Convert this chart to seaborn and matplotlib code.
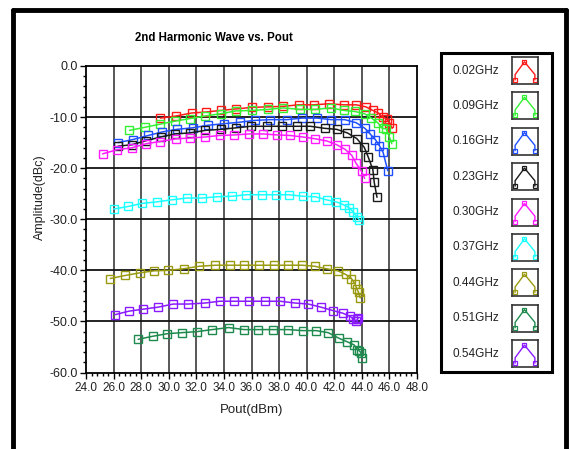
import numpy as np
import pandas as pd
import matplotlib
matplotlib.use("Agg")
import matplotlib.pyplot as plt
from matplotlib.lines import Line2D
from matplotlib.patches import Rectangle
from matplotlib.ticker import MultipleLocator, FormatStrFormatter
import seaborn as sns

# ---------------- data ----------------
labels = ["0.02GHz", "0.09GHz", "0.16GHz", "0.23GHz", "0.30GHz",
          "0.37GHz", "0.44GHz", "0.51GHz", "0.54GHz"]
colors = ["#ff1a1a", "#33f033", "#1f4fff", "#1a1a1a", "#ff1aff",
          "#1affff", "#9a9a12", "#1e8a4e", "#8a1aff"]

x_002 = [29.4, 30.5, 31.66, 32.73, 33.78, 34.9, 36.02, 37.17, 38.29, 39.41, 40.5,
         41.6, 42.7, 43.6, 44.3, 44.8, 45.2, 45.5, 45.8, 46.0, 46.2]
y_002 = [-10.2, -9.8, -9.2, -9.0, -8.7, -8.4, -8.1, -8.0, -7.9, -7.6, -7.6,
         -7.4, -7.6, -7.6, -8.0, -8.7, -9.2, -10.0, -10.3, -11.1, -12.2]

x_009 = [27.15, 28.27, 29.34, 30.44, 31.51, 32.61, 33.76, 34.85, 36.02, 37.17, 38.32,
         39.5, 40.63, 41.73, 42.7, 43.5, 44.2, 44.7, 45.15, 45.5, 45.76, 46.0, 46.17]
y_009 = [-12.6, -12.0, -11.4, -10.8, -10.3, -9.8, -9.35, -8.8, -8.7, -8.5, -8.2,
         -8.5, -8.5, -8.2, -8.7, -8.9, -9.35, -10.2, -11.1, -12.2, -12.3, -13.9, -15.2]

x_016 = [26.32, 27.39, 28.51, 29.54, 30.59, 31.73, 32.85, 33.98, 35.15, 36.22, 37.37,
         38.56, 39.66, 40.76, 41.78, 42.76, 43.59, 44.22, 44.6, 44.98, 45.27, 45.54, 45.88]
y_016 = [-15.0, -14.4, -13.6, -12.9, -12.4, -12.1, -11.6, -11.3, -11.0, -10.65, -10.5,
         -10.5, -10.2, -10.2, -10.5, -10.5, -11.1, -12.2, -13.3, -14.4, -15.6, -16.9, -20.5]

x_023 = [26.32, 27.34, 28.37, 29.41, 30.44, 31.54, 32.66, 33.78, 34.9, 35.93, 37.1,
         38.2, 39.3, 40.27, 41.3, 42.17, 42.95, 43.63, 44.17, 44.46, 44.8, 44.9, 45.1]
y_023 = [-15.7, -15.4, -14.6, -13.9, -13.3, -13.1, -12.6, -12.4, -12.1, -11.8, -11.8,
         -11.8, -11.8, -11.8, -12.2, -12.4, -13.1, -14.2, -15.9, -17.8, -20.3, -22.8, -25.7]

x_030 = [25.2, 26.24, 27.34, 28.37, 29.34, 30.51, 31.56, 32.63, 33.68, 34.73, 35.83,
         36.85, 37.88, 38.8, 39.73, 40.63, 41.49, 42.17, 42.78, 43.27, 43.56, 43.98, 44.2]
y_030 = [-17.2, -16.4, -16.0, -15.2, -14.8, -14.25, -14.1, -13.9, -13.6, -13.5, -13.3,
         -13.3, -13.5, -13.6, -13.9, -14.25, -14.7, -15.4, -16.3, -17.5, -18.95, -20.65, -22.0]

x_037 = [26.0, 27.05, 28.07, 29.12, 30.2, 31.3, 32.4, 33.5, 34.6, 35.63, 36.73,
         37.76, 38.73, 39.7, 40.63, 41.44, 42.15, 42.7, 43.07, 43.37, 43.63, 43.83]
y_037 = [-28.0, -27.5, -26.9, -26.6, -26.2, -25.85, -25.85, -25.6, -25.5, -25.2, -25.2,
         -25.2, -25.2, -25.5, -25.6, -26.2, -26.6, -27.2, -27.7, -28.55, -29.5, -30.1]

x_044 = [25.76, 26.85, 27.88, 28.93, 29.98, 31.07, 32.22, 33.37, 34.41, 35.46, 36.56,
         37.63, 38.68, 39.66, 40.58, 41.44, 42.27, 42.83, 43.24, 43.49, 43.63, 43.76, 43.88]
y_044 = [-41.6, -41.0, -40.5, -40.1, -40.0, -39.7, -39.2, -39.0, -39.0, -39.0, -39.0,
         -39.0, -39.0, -39.0, -39.2, -39.7, -40.1, -40.8, -41.6, -42.6, -43.6, -44.3, -45.4]

x_051 = [27.78, 28.85, 29.9, 30.95, 32.05, 33.15, 34.34, 35.46, 36.5, 37.54, 38.68,
         39.7, 40.68, 41.56, 42.34, 42.95, 43.44, 43.68, 43.83, 43.93, 43.98]
y_051 = [-53.5, -52.9, -52.4, -52.2, -52.0, -51.6, -51.2, -51.6, -51.6, -51.6, -51.6,
         -51.8, -51.8, -52.2, -53.3, -54.0, -54.6, -55.5, -55.8, -56.1, -57.1]

x_054 = [26.07, 27.1, 28.15, 29.24, 30.32, 31.41, 32.63, 33.7, 34.73, 35.85, 37.0,
         38.07, 39.15, 40.12, 41.02, 41.93, 42.63, 43.15, 43.37, 43.59, 43.68, 43.73]
y_054 = [-48.7, -48.0, -47.6, -47.2, -46.6, -46.6, -46.4, -46.05, -46.05, -46.05, -46.05,
         -46.05, -46.4, -46.6, -47.2, -47.9, -48.4, -49.0, -49.5, -49.9, -49.6, -49.3]

series_x = [x_002, x_009, x_016, x_023, x_030, x_037, x_044, x_051, x_054]
series_y = [y_002, y_009, y_016, y_023, y_030, y_037, y_044, y_051, y_054]

x_ticks = [24.0, 26.0, 28.0, 30.0, 32.0, 34.0, 36.0, 38.0, 40.0, 42.0, 44.0, 46.0, 48.0]
y_ticks = [0.0, -10.0, -20.0, -30.0, -40.0, -50.0, -60.0]

# ---------------- figure ----------------
sns.set_style("white")
plt.rcParams["font.family"] = ["Liberation Sans", "DejaVu Sans"]

W, H = 569, 449
fig = plt.figure(figsize=(W / 100, H / 100), dpi=100)
fig.patch.set_facecolor("white")

def fx(px):
    return px / W

def fy(py):
    return 1 - py / H

ax = fig.add_axes([fx(86), fy(372.5), fx(417) - fx(86), fy(66) - fy(372.5)])

# grid
for gx in x_ticks[1:-1]:
    ax.axvline(gx, color="#4a4a4a", lw=1.3, zorder=0)
for gy in y_ticks[1:-1]:
    ax.axhline(gy, color="#111111", lw=1.3, zorder=0)

for xs, ys, c, lab in zip(series_x, series_y, colors, labels):
    df = pd.DataFrame({"Pout": xs, "Amp": ys})
    sns.lineplot(data=df, x="Pout", y="Amp", ax=ax, color=c, lw=1.1,
                 marker="s", markersize=5.5, markerfacecolor="none",
                 markeredgecolor=c, markeredgewidth=1.0,
                 sort=False, estimator=None, legend=False, zorder=3)

ax.set_xlim(24, 48)
ax.set_ylim(-60, 0)
ax.set_xticks(x_ticks)
ax.set_yticks(y_ticks)
ax.xaxis.set_major_formatter(FormatStrFormatter("%.1f"))
ax.yaxis.set_major_formatter(FormatStrFormatter("%.1f"))
ax.xaxis.set_minor_locator(MultipleLocator(0.4))
ax.yaxis.set_minor_locator(MultipleLocator(2))
ax.tick_params(axis="both", which="major", direction="out", length=4, width=1,
               color="black", pad=2, labelcolor="#222222")
ax.tick_params(axis="x", which="major", labelsize=8.5, pad=3)
ax.tick_params(axis="y", which="major", labelsize=9)
ax.tick_params(axis="both", which="minor", direction="out", length=2.5, width=1,
               color="black")
ax.tick_params(axis="x", which="both", bottom=True)
ax.tick_params(axis="y", which="both", left=True)
for s in ax.spines.values():
    s.set_color("black")
    s.set_linewidth(1.3)
ax.set_xlabel("Pout(dBm)", fontsize=9.5, labelpad=7, color="#222222")
ax.set_ylabel("")
fig.text(fx(40), fy(197), "Amplitude(dBc)", rotation=90, ha="center", va="center",
         fontsize=9, color="#222222")

fig.text(fx(214), fy(38), "2nd Harmonic Wave vs. Pout", ha="center", va="center",
         fontsize=8.3, fontweight="bold", color="black")

# outer frame (left, top, right)
fig.add_artist(Line2D([fx(13), fx(13)], [-0.05, fy(10)], color="black", lw=3.5))
fig.add_artist(Line2D([fx(13), fx(566)], [fy(10), fy(10)], color="black", lw=3.5))
fig.add_artist(Line2D([fx(566), fx(566)], [fy(10), -0.05], color="black", lw=3.5))

# legend box
fig.add_artist(Rectangle((fx(441), fy(372)), fx(552) - fx(441), fy(53) - fy(372),
                         transform=fig.transFigure, fill=False, ec="black", lw=2.2))
for i, (lab, c) in enumerate(zip(labels, colors)):
    cy = 70.5 + i * 35.4
    fig.text(fx(476), fy(cy), lab, ha="center", va="center", fontsize=8.5, color="#222222")
    iax = fig.add_axes([fx(512), fy(cy + 13.5), fx(538) - fx(512), fy(cy - 13.5) - fy(cy + 13.5)])
    iax.set_xlim(0, 1)
    iax.set_ylim(0, 1)
    iax.set_xticks([])
    iax.set_yticks([])
    for s in iax.spines.values():
        s.set_color("#333333")
        s.set_linewidth(1.2)
    iax.plot([0.12, 0.12, 0.48, 0.88, 0.88], [0.15, 0.35, 0.82, 0.35, 0.15], color=c, lw=1.0)
    iax.plot([0.12, 0.48, 0.88], [0.15, 0.82, 0.15], ls="none", marker="s", ms=3,
             mfc="none", mec=c, mew=0.9)

fig.savefig("out.png", dpi=100)
